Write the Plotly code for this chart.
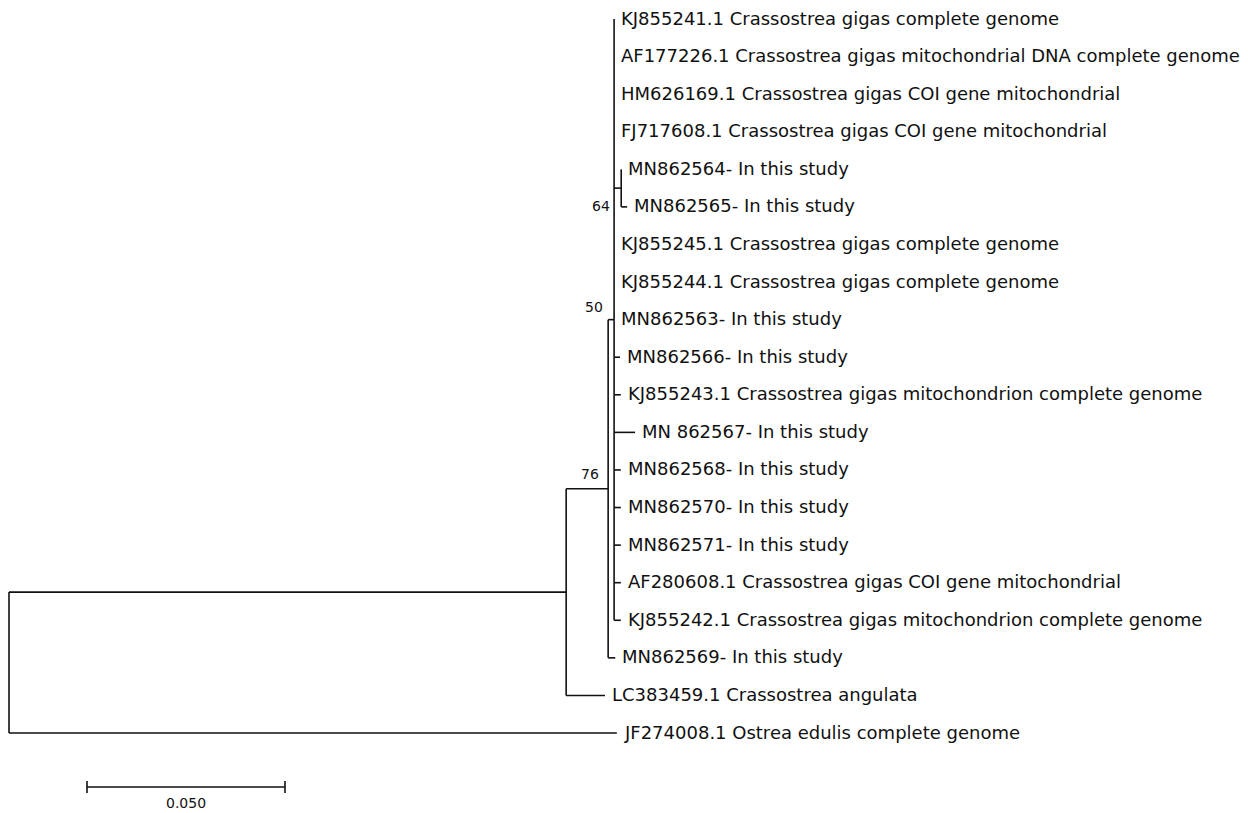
import plotly.graph_objects as go

# ---------------- data ----------------
leaf_names = [
    "KJ855241.1 Crassostrea gigas complete genome",
    "AF177226.1 Crassostrea gigas mitochondrial DNA complete genome",
    "HM626169.1 Crassostrea gigas COI gene mitochondrial",
    "FJ717608.1 Crassostrea gigas COI gene mitochondrial",
    "MN862564- In this study",
    "MN862565- In this study",
    "KJ855245.1 Crassostrea gigas complete genome",
    "KJ855244.1 Crassostrea gigas complete genome",
    "MN862563- In this study",
    "MN862566- In this study",
    "KJ855243.1 Crassostrea gigas mitochondrion complete genome",
    "MN 862567- In this study",
    "MN862568- In this study",
    "MN862570- In this study",
    "MN862571- In this study",
    "AF280608.1 Crassostrea gigas COI gene mitochondrial",
    "KJ855242.1 Crassostrea gigas mitochondrion complete genome",
    "MN862569- In this study",
    "LC383459.1 Crassostrea angulata",
    "JF274008.1 Ostrea edulis complete genome",
]
leaf_parent = ["n50"] * 4 + ["n64"] * 2 + ["n50"] * 11 + ["n76", "nA", "root"]
leaf_length = [0, 0, 0, 0,
               0, 0.0015,
               0, 0, 0, 0.0015, 0.0017, 0.0053, 0.0017, 0.0017, 0.0017, 0.0017, 0.0017,
               0.0018, 0.0098, 0.1535]

node_names = ["root", "nA", "n76", "n50", "n64"]
node_parent = [None, "root", "nA", "n76", "n50"]
node_length = [0.0, 0.1407, 0.0106, 0.0015, 0.0018]

boot_nodes = ["n64", "n50", "n76"]
boot_values = [64, 50, 76]

scale_length = 0.05
scale_label = "0.050"

# ---------------- layout constants (pixels) ----------------
PX_PER_UNIT = 3960.0
ROOT_SX = 9
ROW0_SY = 19
ROW_DY = 37.58
W, H = 1248, 813

# ---------------- compute tree geometry ----------------
parent = {}
length = {}
for n, p, l in zip(node_names, node_parent, node_length):
    parent[n] = p
    length[n] = l
for i, (p, l) in enumerate(zip(leaf_parent, leaf_length)):
    parent[f"leaf{i}"] = p
    length[f"leaf{i}"] = l

children = {n: [] for n in node_names}
for n in node_names[1:]:
    children[parent[n]].append(n)
for i in range(len(leaf_names)):
    children[leaf_parent[i]].append(f"leaf{i}")

xpos = {}
def get_x(n):
    if n in xpos:
        return xpos[n]
    p = parent[n]
    xpos[n] = 0.0 if p is None else get_x(p) + length[n]
    return xpos[n]

ypos = {f"leaf{i}": float(i) for i in range(len(leaf_names))}
def get_y(n):
    if n in ypos:
        return ypos[n]
    ys = [get_y(c) for c in children[n]]
    ypos[n] = (min(ys) + max(ys)) / 2
    return ypos[n]

all_nodes = node_names + [f"leaf{i}" for i in range(len(leaf_names))]
for n in all_nodes:
    get_x(n)
    get_y(n)

lx, ly = [], []
for n in all_nodes:
    p = parent[n]
    if p is not None and length[n] > 0:
        lx += [xpos[p], xpos[n], None]
        ly += [ypos[n], ypos[n], None]
for n in node_names:
    ys = [ypos[c] for c in children[n]]
    lx += [xpos[n], xpos[n], None]
    ly += [min(ys), max(ys), None]

fig = go.Figure()
fig.add_trace(go.Scatter(x=lx, y=ly, mode="lines",
                         line=dict(color="#111111", width=1.6),
                         hoverinfo="skip", showlegend=False))

# scale bar
sb_x0 = (87 - ROOT_SX) / PX_PER_UNIT
sb_y = (787 - ROW0_SY) / ROW_DY
tick = 6 / ROW_DY
fig.add_trace(go.Scatter(
    x=[sb_x0, sb_x0 + scale_length, None, sb_x0, sb_x0, None, sb_x0 + scale_length, sb_x0 + scale_length],
    y=[sb_y, sb_y, None, sb_y - tick, sb_y + tick, None, sb_y - tick, sb_y + tick],
    mode="lines", line=dict(color="#111111", width=1.6),
    hoverinfo="skip", showlegend=False))

annotations = []
for i, name in enumerate(leaf_names):
    n = f"leaf{i}"
    annotations.append(dict(x=xpos[n], y=ypos[n], text=name, showarrow=False,
                            xanchor="left", yanchor="middle", xshift=5, yshift=1,
                            font=dict(family="DejaVu Sans", size=18, color="#111111")))

boot_offsets = {"n64": (-9, -18), "n50": (-9, 13), "n76": (-7, 15)}
for n, v in zip(boot_nodes, boot_values):
    dx, dy = boot_offsets[n]
    annotations.append(dict(x=xpos[n], y=ypos[n], text=str(v), showarrow=False,
                            xanchor="right", yanchor="middle", xshift=dx, yshift=dy,
                            font=dict(family="DejaVu Sans", size=14, color="#111111")))

annotations.append(dict(x=sb_x0 + scale_length / 2, y=sb_y, text=scale_label, showarrow=False,
                        xanchor="center", yanchor="middle", yshift=-16,
                        font=dict(family="DejaVu Sans", size=14, color="#111111")))

xr = [-ROOT_SX / PX_PER_UNIT, (W - ROOT_SX) / PX_PER_UNIT]
yr = [(H - ROW0_SY) / ROW_DY, -ROW0_SY / ROW_DY]

fig.update_layout(
    width=W, height=H,
    margin=dict(l=0, r=0, t=0, b=0),
    paper_bgcolor="white", plot_bgcolor="white",
    xaxis=dict(range=xr, visible=False, fixedrange=True),
    yaxis=dict(range=yr, visible=False, fixedrange=True),
    annotations=annotations,
    showlegend=False,
    hovermode=False,
)

fig.write_html("out.html",
               config={"displayModeBar": False, "staticPlot": True},
               post_script="document.body.style.margin='0px';document.body.style.overflow='hidden';")
